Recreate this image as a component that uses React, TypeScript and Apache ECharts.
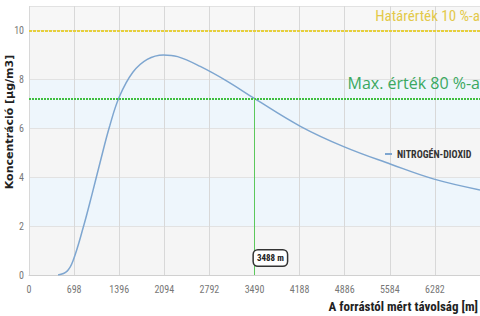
import React, { useEffect, useRef } from "react";
import * as echarts from "echarts";

const distances = [450, 590, 680, 840, 980, 1100, 1250, 1400, 1610, 1830, 2080, 2300, 2650, 3070, 3488, 4200, 4870, 5600, 6270, 6980];
const concentrations = [0, 0.16, 0.57, 1.95, 3.35, 4.6, 6.1, 7.3, 8.3, 8.82, 9.0, 8.93, 8.53, 7.92, 7.22, 6.08, 5.25, 4.53, 3.92, 3.48];
const limitValue = 10;
const maxLine = 7.22;
const crossDistance = 3488;
const seriesName = "NITROGÉN-DIOXID";
const limitLabel = "Határérték 10 %-a";
const maxLabel = "Max. érték 80 %-a";
const xTitle = "A forrástól mért távolság [m]";
const yTitle = "Koncentráció [µg/m3]";

export default function App() {
  const ref = useRef<HTMLDivElement>(null);
  useEffect(() => {
    const chart = echarts.init(ref.current!, null, { renderer: "svg" });
    const narrow = "'Liberation Sans Narrow', 'Roboto Condensed', 'Liberation Sans', sans-serif";
    chart.setOption({
      animation: false,
      backgroundColor: "#ffffff",
      grid: { left: 29, right: 0, top: 6, bottom: 41 },
      legend: {
        data: [{ name: seriesName, icon: "rect" }],
        left: 380,
        top: 144,
        itemWidth: 7,
        itemHeight: 2,
        itemGap: 5,
        textStyle: { fontFamily: narrow, fontWeight: "bold", fontSize: 10, color: "#333" },
      },
      xAxis: {
        type: "value",
        min: 0,
        max: 6980,
        interval: 698,
        axisLine: { show: true, lineStyle: { color: "#d0d0d0" } },
        axisTick: { show: false },
        axisLabel: {
          showMaxLabel: false,
          color: "#777",
          fontFamily: narrow,
          fontSize: 10,
          margin: 9,
          formatter: (v: number) => String(v),
        },
        splitLine: { show: true, lineStyle: { color: "#d8d8d8" } },
      },
      yAxis: {
        type: "value",
        min: 0,
        max: 11,
        interval: 2,
        axisLine: { show: false },
        axisTick: { show: false },
        axisLabel: { showMaxLabel: false, color: "#777", fontFamily: narrow, fontSize: 10, margin: 5 },
        splitLine: { show: true, lineStyle: { color: "#e2e2e2" } },
        splitArea: {
          show: true,
          areaStyle: { color: ["#f5f5f5", "#eef6fc", "#f5f5f5", "#eef6fc", "#f5f5f5", "#f7f7f7"] },
        },
      },
      series: [
        {
          name: seriesName,
          type: "line",
          smooth: 0.4,
          showSymbol: false,
          data: distances.map((d, i) => [d, concentrations[i]]),
          lineStyle: { color: "#7ea6d0", width: 1.5 },
          itemStyle: { color: "#7ea6d0" },
          markLine: {
            silent: true,
            symbol: "none",
            label: { show: false },
            data: [
              { yAxis: limitValue, lineStyle: { color: "#e6cf3c", width: 2, type: [3, 1] } },
              { yAxis: maxLine, lineStyle: { color: "#3fbf3f", width: 2, type: [2, 1] } },
              [
                { coord: [crossDistance, maxLine], lineStyle: { color: "#5cc85c", width: 1, type: "solid" } },
                { coord: [crossDistance, 0] },
              ],
            ],
          },
          markPoint: {
            silent: true,
            symbol: "rect",
            symbolSize: 0,
            data: [
              {
                coord: [crossDistance, 0],
                label: {
                  show: true,
                  formatter: crossDistance + " m",
                  offset: [16, -17],
                  backgroundColor: "#ffffff",
                  borderColor: "#333",
                  borderWidth: 1.5,
                  borderRadius: 4,
                  padding: [3, 3],
                  color: "#222",
                  fontFamily: narrow,
                  fontWeight: "bold",
                  fontSize: 9,
                },
              },
            ],
          },
        },
      ],
      graphic: [
        {
          type: "text",
          z: 100,
          x: 480,
          y: 16,
          style: {
            text: limitLabel,
            fill: "#e3c94a",
            font: "15px " + narrow,
            align: "right",
            verticalAlign: "middle",
          },
        },
        {
          type: "text",
          z: 100,
          x: 480,
          y: 83,
          style: {
            text: maxLabel,
            fill: "#3aa860",
            font: "16px 'Open Sans', 'Liberation Sans', sans-serif",
            align: "right",
            verticalAlign: "middle",
          },
        },
        {
          type: "text",
          z: 100,
          x: 478,
          y: 306,
          style: {
            text: xTitle,
            fill: "#222",
            font: "bold 13px " + narrow,
            align: "right",
            verticalAlign: "middle",
          },
        },
        {
          type: "text",
          z: 100,
          x: 9,
          y: 122,
          rotation: Math.PI / 2,
          style: {
            text: yTitle,
            fill: "#222",
            font: "bold 11px 'DejaVu Sans', Verdana, sans-serif",
            align: "center",
            verticalAlign: "middle",
          },
        },
      ],
    });
    return () => chart.dispose();
  }, []);
  return (
    <div
      ref={ref}
      style={{ position: "fixed", left: 0, top: 0, width: 480, height: 316 }}
    />
  );
}
